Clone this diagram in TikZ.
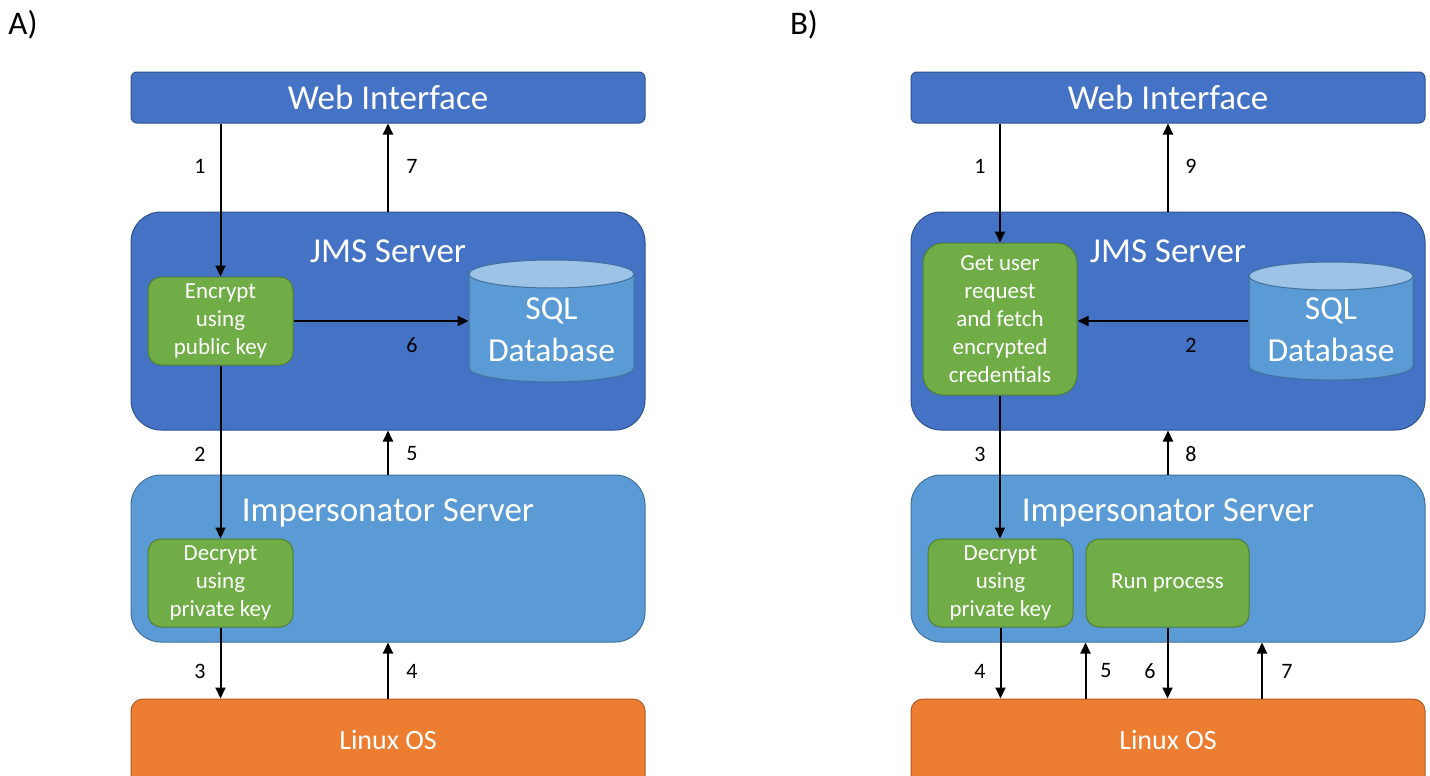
\documentclass[tikz,border=0pt]{standalone}
\usepackage{fontspec}
\setmainfont{Carlito}
\usetikzlibrary{arrows.meta,calc}

\definecolor{jmsblue}{HTML}{4472C4}
\definecolor{jmsedge}{HTML}{2F528F}
\definecolor{impblue}{HTML}{5B9BD5}
\definecolor{impedge}{HTML}{41719C}
\definecolor{dbtop}{HTML}{9DC3E6}
\definecolor{taskgreen}{HTML}{70AD47}
\definecolor{taskedge}{HTML}{507E32}
\definecolor{osorange}{HTML}{ED7D31}
\definecolor{osedge}{HTML}{AE5A21}

\tikzset{
  box/.style={draw, line width=0.5pt, text=white, inner sep=0pt, align=center},
  webbox/.style={box, fill=jmsblue, draw=jmsedge, rounded corners=3pt,
    minimum width=257pt, minimum height=25.5pt, font=\fontsize{17.5}{20}\selectfont},
  serverbox/.style={box, rounded corners=15pt, minimum width=257pt},
  jmsbox/.style={serverbox, fill=jmsblue, draw=jmsedge, minimum height=109pt},
  impbox/.style={serverbox, fill=impblue, draw=impedge, minimum height=83.5pt},
  osbox/.style={box, fill=osorange, draw=osedge, rounded corners=6pt,
    minimum width=257pt, minimum height=50pt},
  title/.style={text=white, inner sep=0pt, font=\fontsize{17.5}{20}\selectfont},
  ostitle/.style={text=white, inner sep=0pt, font=\fontsize{14}{17}\selectfont},
  task/.style={box, fill=taskgreen, draw=taskedge, rounded corners=6.5pt,
    font=\fontsize{11.5}{14}\selectfont},
  dbframe/.style={inner sep=0pt, minimum width=82.5pt, minimum height=61pt},
  dbtext/.style={text=white, align=center, inner sep=0pt, font=\fontsize{16.8}{21}\selectfont},
  num/.style={text=black, inner sep=0pt, font=\fontsize{11}{13}\selectfont},
  panel/.style={text=black, inner sep=0pt, font=\fontsize{16.5}{19}\selectfont},
  flow/.style={-{Triangle[length=5.5pt,width=5pt]}, line width=1pt, black},
}

% database cylinder: #1 = left x, #2 = right x, #3 = top y, #4 = bottom y (pixel grid, y downward)
\newcommand{\dbcylinder}[4]{%
  \pgfmathsetmacro{\cx}{(#1+#2)/2}%
  \pgfmathsetmacro{\rx}{(#2-#1)/2}%
  \pgfmathsetmacro{\ytop}{#3+14}%
  \pgfmathsetmacro{\ybot}{#4-14}%
  \fill[impblue] (#1,\ytop) rectangle (#2,\ybot);
  \fill[impblue] (\cx,\ybot) ellipse[x radius=\rx, y radius=14];
  \draw[impedge, line width=0.5pt] (#1,\ytop) -- (#1,\ybot)
    arc[start angle=180, end angle=0, x radius=\rx, y radius=14] -- (#2,\ytop);
  \filldraw[fill=dbtop, draw=impedge, line width=0.5pt] (\cx,\ytop) ellipse[x radius=\rx, y radius=14];
}

\begin{document}
\begin{tikzpicture}[x=0.5pt, y=-0.5pt]
\useasboundingbox (0,0) rectangle (1430,776);
\clip (0,0) rectangle (1430,776);
\fill[white] (0,0) rectangle (1430,776);

% ---------------- panel A ----------------
\node[panel] (labA) at (23,25) {A)};

\node[webbox] (webA) at (388,97.5) {Web Interface};
\node[jmsbox] (jmsA) at (388,321) {};
\node[title] (jmsAt) at (388,251) {JMS Server};
\node[task, minimum width=72.5pt, minimum height=44pt] (encA) at (220.5,321)
  {Encrypt\\using\\public key};
\dbcylinder{469}{634}{260}{382}
\node[dbframe] (dbA) at (551.5,321) {};
\node[dbtext] (dbAt) at (551.5,330) {SQL\\Database};

\node[impbox] (impA) at (388,558.5) {};
\node[title] (impAt) at (388,513) {Impersonator Server};
\node[task, minimum width=72.5pt, minimum height=44pt] (decA) at (220.5,583)
  {Decrypt\\using\\private key};

\node[osbox] (linA) at (388,749) {};
\node[ostitle] (linAt) at (388,740) {Linux OS};

\draw[flow] (encA.north |- webA.south) -- (encA.north);
\draw[flow] (jmsA.north) -- (webA.south);
\draw[flow] (encA.east) -- (dbA.west);
\draw[flow] (encA.south) -- (decA.north);
\draw[flow] (impA.north) -- (jmsA.south);
\draw[flow] (decA.south) -- (decA.south |- linA.north);
\draw[flow] (linA.north) -- (impA.south);

\node[num] (a1) at (200,166) {1};
\node[num] (a7) at (412,166) {7};
\node[num] (a6) at (412,345) {6};
\node[num] (a2) at (200,454) {2};
\node[num] (a5) at (412,454) {5};
\node[num] (a3) at (200,671) {3};
\node[num] (a4) at (412,671) {4};

% ---------------- panel B ----------------
\node[panel] (labB) at (804,25) {B)};

\node[webbox] (webB) at (1168,97.5) {Web Interface};
\node[jmsbox] (jmsB) at (1168,321) {};
\node[title] (jmsBt) at (1168,251) {JMS Server};
\node[task, rounded corners=10pt, minimum width=77pt, minimum height=76pt] (getB) at (1000,319)
  {Get user\\request\\and fetch\\encrypted\\credentials};
\dbcylinder{1249}{1413}{262}{380}
\node[dbframe] (dbB) at (1331,321) {};
\node[dbtext] (dbBt) at (1331,330) {SQL\\Database};

\node[impbox] (impB) at (1168,558.5) {};
\node[title] (impBt) at (1168,513) {Impersonator Server};
\node[task, minimum width=72.5pt, minimum height=44pt] (decB) at (1000.5,583)
  {Decrypt\\using\\private key};
\node[task, minimum width=81.5pt, minimum height=44pt] (runB) at (1167.5,583)
  {Run process};

\node[osbox] (linB) at (1168,749) {};
\node[ostitle] (linBt) at (1168,740) {Linux OS};
\coordinate (osout) at (1262,699);

\draw[flow] (getB.north |- webB.south) -- (getB.north);
\draw[flow] (jmsB.north) -- (webB.south);
\draw[flow] (dbB.west) -- (dbB.west -| getB.east);
\draw[flow] (getB.south) -- (getB.south |- decB.north);
\draw[flow] (impB.north) -- (jmsB.south);
\draw[flow] (decB.south) -- (decB.south |- linB.north);
\draw[flow] (runB.west |- linB.north) -- (runB.west |- impB.south);
\draw[flow] (runB.south) -- (runB.south |- linB.north);
\draw[flow] (osout) -- (osout |- impB.south);

\node[num] (b1) at (980,166) {1};
\node[num] (b9) at (1191,166) {9};
\node[num] (b2) at (1191,345) {2};
\node[num] (b3) at (980,454) {3};
\node[num] (b8) at (1191,454) {8};
\node[num] (b4) at (980,671) {4};
\node[num] (b5) at (1106,671) {5};
\node[num] (b6) at (1150,671) {6};
\node[num] (b7) at (1287,671) {7};
\end{tikzpicture}
\end{document}
